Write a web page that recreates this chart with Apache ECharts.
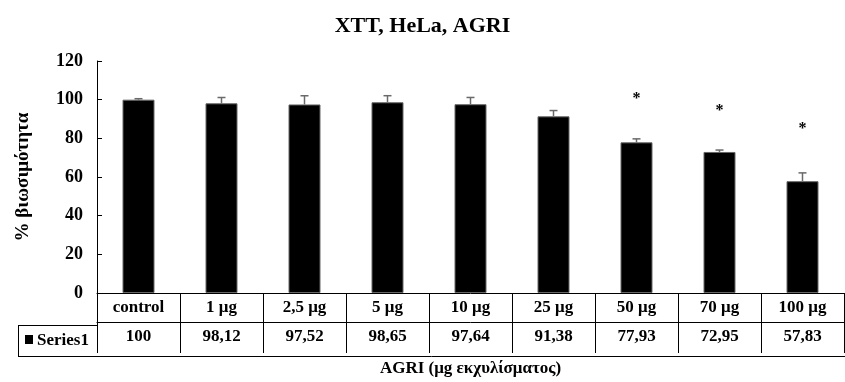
<!DOCTYPE html>
<html><head><meta charset="utf-8">
<script src="https://cdn.jsdelivr.net/npm/echarts@6/dist/echarts.min.js"></script>
<style>html,body{margin:0;padding:0;background:#fff}#c{width:845px;height:382px}</style>
</head><body><div id="c"></div>
<script>
const categories = ['control','1 μg','2,5 μg','5 μg','10 μg','25 μg','50 μg','70 μg','100 μg'];
const values = [100, 98.12, 97.52, 98.65, 97.64, 91.38, 77.93, 72.95, 57.83];
const errors = [0.5, 3.0, 4.5, 3.4, 3.5, 3.0, 1.8, 1.0, 4.3];
const starCats = [6, 7, 8];
const starY = [102.4, 96.4, 86.9];
const yTicks = [0, 20, 40, 60, 80, 100, 120];
const seriesName = 'Series1';

const FONT = '"Liberation Serif", "DejaVu Serif", serif';
const chart = echarts.init(document.getElementById('c'), null, {renderer: 'canvas'});

const grid = {left: 97, right: 1, top: 61, bottom: 86};
const fmt = v => String(v).replace('.', ',');

chart.setOption({
  animation: false,
  backgroundColor: '#fff',
  title: {
    text: 'XTT, HeLa, AGRI', left: 'center', top: 10,
    textStyle: {fontFamily: FONT, fontWeight: 'bold', fontSize: 22, color: '#000'}
  },
  grid: grid,
  xAxis: [{
    type: 'category', data: categories, position: 'bottom',
    axisLine: {lineStyle: {color: '#000', width: 1}},
    axisTick: {show: true, length: 60, lineStyle: {color: '#000', width: 1}},
    axisLabel: {margin: 6, fontFamily: FONT, fontWeight: 'bold', fontSize: 17, color: '#000', interval: 0},
    name: 'AGRI (μg εκχυλίσματος)', nameLocation: 'middle', nameGap: 67,
    nameTextStyle: {fontFamily: FONT, fontWeight: 'bold', fontSize: 17, color: '#000'}
  }, {
    type: 'category', data: categories, position: 'bottom', offset: 29,
    axisLine: {show: true, lineStyle: {color: '#000', width: 1}},
    axisTick: {show: false},
    axisLabel: {margin: 6, fontFamily: FONT, fontWeight: 'bold', fontSize: 17, color: '#000', interval: 0,
      formatter: (v, i) => fmt(values[i])}
  }],
  yAxis: {
    type: 'value', min: 0, max: 120, interval: 20,
    axisLine: {show: true, lineStyle: {color: '#000', width: 1}},
    axisTick: {show: true, inside: true, length: 5, lineStyle: {color: '#000'}},
    splitLine: {show: false},
    axisLabel: {margin: 14, fontFamily: FONT, fontWeight: 'bold', fontSize: 18, color: '#000',
      formatter: v => yTicks.includes(v) ? String(v) : ''},
    name: '% βιωσιμότητα', nameLocation: 'middle', nameGap: 64, nameRotate: 90,
    nameTextStyle: {fontFamily: FONT, fontWeight: 'bold', fontSize: 19, color: '#000'}
  },
  series: [{
    name: seriesName, type: 'bar', data: values, barWidth: 32,
    itemStyle: {color: '#000', borderColor: '#666', borderWidth: 1}
  }, {
    type: 'custom', data: values.map((v, i) => [i, v, errors[i]]),
    renderItem: (params, api) => {
      const x = api.value(0), v = api.value(1), e = api.value(2);
      const p0 = api.coord([x, v]);
      const p1 = api.coord([x, v + e]);
      const st = {stroke: '#6a6a6a', lineWidth: 1.5};
      return {type: 'group', children: [
        {type: 'line', shape: {x1: p0[0], y1: p0[1], x2: p1[0], y2: p1[1]}, style: st},
        {type: 'line', shape: {x1: p1[0] - 4, y1: p1[1], x2: p1[0] + 4, y2: p1[1]}, style: st}
      ]};
    },
    z: 3
  }, {
    type: 'custom', data: starCats.map((c, i) => [c, starY[i]]),
    renderItem: (params, api) => {
      const p = api.coord([api.value(0), api.value(1)]);
      return {type: 'text', x: p[0], y: p[1] + 4, style: {text: '*', fontFamily: FONT, fontWeight: 'bold', fontSize: 16, fill: '#000', align: 'center', verticalAlign: 'middle'}};
    },
    z: 4
  }],
  graphic: [
    {type: 'line', shape: {x1: 18, y1: 325.5, x2: 97, y2: 325.5}, style: {stroke: '#000', lineWidth: 1}},
    {type: 'line', shape: {x1: 18, y1: 356.5, x2: 845, y2: 356.5}, style: {stroke: '#000', lineWidth: 1}},
    {type: 'line', shape: {x1: 18.5, y1: 325, x2: 18.5, y2: 357}, style: {stroke: '#000', lineWidth: 1}},
    {type: 'rect', shape: {x: 25, y: 335, width: 8, height: 9}, style: {fill: '#000'}},
    {type: 'text', x: 37, y: 341, style: {text: seriesName, fontFamily: FONT, fontWeight: 'bold', fontSize: 17, fill: '#000', verticalAlign: 'middle'}}
  ]
});
</script></body></html>
